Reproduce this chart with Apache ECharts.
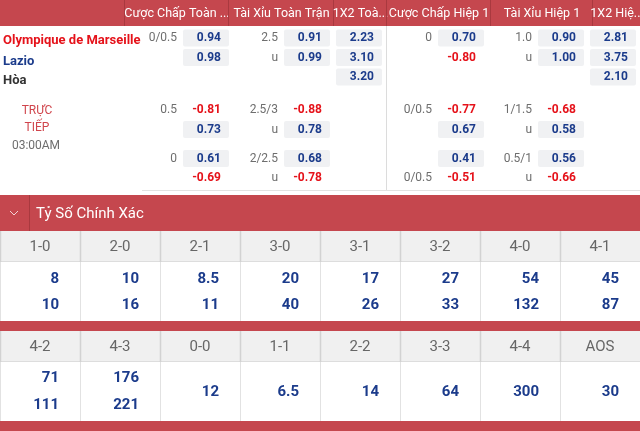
<!DOCTYPE html>
<html><head><meta charset="utf-8">
<script src="https://cdn.jsdelivr.net/npm/echarts@6/dist/echarts.min.js"></script>
<style>html,body{margin:0;padding:0;background:#fff}#c{width:640px;height:431px}</style>
</head><body><div id="c"></div>
<script>
// ================= DATA =================
const headerLabels = ["Cược Chấp Toàn ...", "Tài Xỉu Toàn Trận", "1X2 Toà...", "Cược Chấp Hiệp 1", "Tài Xỉu Hiệp 1", "1X2 Hiệ..."];
const teams = ["Olympique de Marseille", "Lazio", "Hòa"];
const liveLabel = ["TRỰC", "TIẾP"];
const kickoff = "03:00AM";
// row slots: main(3 rows), live block 1 (2 rows), live block 2 (2 rows)
const ftHdpLine  = ["0/0.5", "", "", "0.5", "", "0", ""];
const ftHdpOdds  = [0.94, 0.98, null, -0.81, 0.73, 0.61, -0.69];
const ftOuLine   = ["2.5", "u", "", "2.5/3", "u", "2/2.5", "u"];
const ftOuOdds   = [0.91, 0.99, null, -0.88, 0.78, 0.68, -0.78];
const ft1x2      = [2.23, 3.10, 3.20, null, null, null, null];
const h1HdpLine  = ["0", "", "", "0/0.5", "", "", "0/0.5"];
const h1HdpOdds  = [0.70, -0.80, null, -0.77, 0.67, 0.41, -0.51];
const h1OuLine   = ["1.0", "u", "", "1/1.5", "u", "0.5/1", "u"];
const h1OuOdds   = [0.90, 1.00, null, -0.68, 0.58, 0.56, -0.66];
const h1x2       = [2.81, 3.75, 2.10, null, null, null, null];

const sectionTitle = "Tỷ Số Chính Xác";
const scoreLabels1 = ["1-0", "2-0", "2-1", "3-0", "3-1", "3-2", "4-0", "4-1"];
const scoreTop1    = [8, 10, 8.5, 20, 17, 27, 54, 45];
const scoreBottom1 = [10, 16, 11, 40, 26, 33, 132, 87];
const scoreLabels2 = ["4-2", "4-3", "0-0", "1-1", "2-2", "3-3", "4-4", "AOS"];
const scoreTop2    = [71, 176, 12, 6.5, 14, 64, 300, 30];
const scoreBottom2 = [111, 221, null, null, null, null, null, null];

// ================= LAYOUT / STYLE =================
const FONT = 'Roboto, "Noto Sans", sans-serif';
const RED_BG = '#c5474e', RED_DARK = '#a9393f';
const BLUE = '#1b3b8b', RED_TXT = '#e5121a', GREY_TXT = '#6e6e6e';
const HEAD_H = 26;
const headerEdges = [124, 228, 333, 386, 490, 592, 640];
const boxRight = [229, 330, 382, 484, 584, 636];
const BOX_W = 46, BOX_H = 17;
const rowY = [38, 57.5, 77, 110, 129.5, 158.5, 178];
const teamY = [41, 62, 81];
const teamColor = ['#e5121a', BLUE, '#333333'];
const BODY_BOTTOM = 190;
const SECTION = {top: 195, bottom: 231};
const tableGeom = [
  {headTop: 231, headBot: 262, bodyBot: 321, vals: [279, 305], single: 292},
  {headTop: 331, headBot: 362, bodyBot: 421, vals: [378, 405], single: 392}
];
const redBars = [[195, 231], [321, 331], [421, 431]];

// ================= BUILD =================
const oddsMarkets = [
  {lines: ftHdpLine, odds: ftHdpOdds},
  {lines: ftOuLine, odds: ftOuOdds},
  {lines: null, odds: ft1x2},
  {lines: h1HdpLine, odds: h1HdpOdds},
  {lines: h1OuLine, odds: h1OuOdds},
  {lines: null, odds: h1x2}
];
const oddsCells = [];
oddsMarkets.forEach((mk, m) => mk.odds.forEach((v, r) => {
  const line = mk.lines ? mk.lines[r] : '';
  if (v != null || line) oddsCells.push({m, r, v, line});
}));

const scoreTables = [
  {labels: scoreLabels1, top: scoreTop1, bottom: scoreBottom1},
  {labels: scoreLabels2, top: scoreTop2, bottom: scoreBottom2}
];
const scoreCells = [];
scoreTables.forEach((t, ti) => t.labels.forEach((l, i) => scoreCells.push({ti, i})));

function txt(text, x, y, align, font, fill, extra) {
  return Object.assign({type: 'text', style: {text, x, y, align, textAlign: align, verticalAlign: 'middle', textVerticalAlign: 'middle', font, fill}}, extra || {});
}

function renderOdds(params, api) {
  const c = oddsCells[params.dataIndex];
  const p = api.coord([boxRight[c.m], rowY[c.r]]);
  const xr = p[0], yc = p[1];
  const ch = [];
  if (c.v != null) {
    const pos = c.v > 0;
    if (pos) ch.push({type: 'rect', shape: {x: xr - BOX_W, y: yc - BOX_H / 2, width: BOX_W, height: BOX_H, r: 2}, style: {fill: '#f0f1f3'}});
    ch.push(txt(c.v.toFixed(2), xr - 8, yc, 'right', 'bold 12px ' + FONT, pos ? BLUE : RED_TXT));
  }
  if (c.line) ch.push(txt(c.line, xr - BOX_W - 6, yc, 'right', '12px ' + FONT, GREY_TXT));
  return {type: 'group', children: ch};
}

function renderHeader(params, api) {
  const i = params.dataIndex;
  const l = api.coord([headerEdges[i], 0]);
  const r = api.coord([headerEdges[i + 1], HEAD_H]);
  const ch = [];
  ch.push({type: 'line', shape: {x1: l[0] + 0.5, y1: l[1], x2: l[0] + 0.5, y2: r[1]}, style: {stroke: RED_DARK, lineWidth: 1}});
  ch.push(txt(headerLabels[i], (l[0] + r[0]) / 2 + 1, (l[1] + r[1]) / 2 + 1, 'center', '12.5px ' + FONT, '#ffffff'));
  return {type: 'group', children: ch};
}

function renderScore(params, api) {
  const c = scoreCells[params.dataIndex];
  const t = scoreTables[c.ti], g = tableGeom[c.ti];
  const bw = api.size([1, 0])[0];
  const cx = api.coord([c.i, 0])[0];
  const left = Math.round(cx - bw / 2) + 0.5, right = cx + bw / 2;
  const yHT = api.coord([c.i, g.headTop])[1];
  const yHB = api.coord([c.i, g.headBot])[1];
  const yBB = api.coord([c.i, g.bodyBot])[1];
  const ch = [];
  ch.push({type: 'rect', shape: {x: left - 0.5, y: yHT, width: bw + 1, height: yHB - yHT}, style: {fill: '#f0f0f0'}});
  ch.push({type: 'line', shape: {x1: left - 1, y1: yHB - 0.5, x2: right + 1, y2: yHB - 0.5}, style: {stroke: '#dddddd', lineWidth: 1}});
  ch.push({type: 'line', shape: {x1: left, y1: yHT, x2: left, y2: yHB}, style: {stroke: '#d2d2d2', lineWidth: 1.5}});
  ch.push({type: 'line', shape: {x1: left, y1: yHB, x2: left, y2: yBB}, style: {stroke: '#e2e2e2', lineWidth: 1}});
  ch.push(txt(t.labels[c.i], cx, (yHT + yHB) / 2 + 1, 'center', '15px ' + FONT, '#666666'));
  const vf = 'bold 15px ' + FONT;
  const xr = right - 21;
  if (t.bottom[c.i] != null) {
    ch.push(txt(String(t.top[c.i]), xr, api.coord([c.i, g.vals[0]])[1], 'right', vf, BLUE));
    ch.push(txt(String(t.bottom[c.i]), xr, api.coord([c.i, g.vals[1]])[1], 'right', vf, BLUE));
  } else {
    ch.push(txt(String(t.top[c.i]), xr, api.coord([c.i, g.single])[1], 'right', vf, BLUE));
  }
  return {type: 'group', children: ch};
}

function renderDecor(params, api) {
  const ch = [];
  // top header bar
  const a = api.coord([0, 0]), b = api.coord([640, HEAD_H]);
  ch.push({type: 'rect', shape: {x: a[0], y: a[1], width: b[0] - a[0], height: b[1] - a[1]}, style: {fill: RED_BG}});
  // body separators
  const s1 = api.coord([386, HEAD_H]), s2 = api.coord([386, BODY_BOTTOM]);
  ch.push({type: 'line', shape: {x1: s1[0] + 0.5, y1: s1[1], x2: s2[0] + 0.5, y2: s2[1]}, style: {stroke: '#dcdcdc', lineWidth: 1}});
  const h1 = api.coord([142, BODY_BOTTOM]), h2 = api.coord([640, BODY_BOTTOM]);
  ch.push({type: 'line', shape: {x1: h1[0], y1: h1[1] + 0.5, x2: h2[0], y2: h2[1] + 0.5}, style: {stroke: '#e2e2e2', lineWidth: 1}});
  // red bars
  redBars.forEach(rb => {
    const p = api.coord([0, rb[0]]), q = api.coord([640, rb[1]]);
    ch.push({type: 'rect', shape: {x: p[0], y: p[1], width: q[0] - p[0], height: q[1] - p[1]}, style: {fill: RED_BG}});
  });
  // section header detail
  const sp = api.coord([29, SECTION.top]), sq = api.coord([29, SECTION.bottom]);
  ch.push({type: 'line', shape: {x1: sp[0] + 0.5, y1: sp[1], x2: sq[0] + 0.5, y2: sq[1]}, style: {stroke: RED_DARK, lineWidth: 1}});
  const cm = api.coord([14, (SECTION.top + SECTION.bottom) / 2]);
  ch.push({type: 'polyline', shape: {points: [[cm[0] - 4, cm[1] - 2], [cm[0], cm[1] + 2], [cm[0] + 4, cm[1] - 2]]}, style: {stroke: '#f3d3d5', lineWidth: 1, fill: null}});
  const st = api.coord([36, (SECTION.top + SECTION.bottom) / 2]);
  ch.push(txt(sectionTitle, st[0], st[1] + 1, 'left', '15px ' + FONT, '#ffffff'));
  // teams
  teams.forEach((tm, i) => {
    const p = api.coord([3, teamY[i]]);
    ch.push(txt(tm, p[0], p[1], 'left', 'bold 13px ' + FONT, teamColor[i], {}));
  });
  // live label
  const lc = api.coord([37, 111]);
  ch.push(txt(liveLabel[0], lc[0], lc[1], 'center', '12px ' + FONT, '#d0454c'));
  const lc2 = api.coord([37, 128]);
  ch.push(txt(liveLabel[1], lc2[0], lc2[1], 'center', '12px ' + FONT, '#d0454c'));
  const kc = api.coord([36, 146]);
  ch.push(txt(kickoff, kc[0], kc[1], 'center', '12px ' + FONT, GREY_TXT));
  return {type: 'group', children: ch};
}

const chart = echarts.init(document.getElementById('c'), null, {renderer: 'canvas'});
chart.setOption({
  animation: false,
  backgroundColor: '#ffffff',
  grid: [
    {left: 0, right: 0, top: 0, bottom: 0},
    {left: -3, right: -9, top: 0, bottom: 0}
  ],
  xAxis: [
    {type: 'value', min: 0, max: 640, show: false, gridIndex: 0},
    {type: 'category', data: scoreLabels1, show: false, gridIndex: 1, boundaryGap: true}
  ],
  yAxis: [
    {type: 'value', min: 0, max: 431, inverse: true, show: false, gridIndex: 0},
    {type: 'value', min: 0, max: 431, inverse: true, show: false, gridIndex: 1}
  ],
  series: [
    {type: 'custom', xAxisIndex: 0, yAxisIndex: 0, data: [[0, 0]], renderItem: renderDecor, silent: true, clip: false, z: 1},
    {type: 'custom', xAxisIndex: 0, yAxisIndex: 0, data: headerLabels.map((l, i) => [headerEdges[i], 0]), renderItem: renderHeader, silent: true, clip: false, z: 2},
    {type: 'custom', xAxisIndex: 0, yAxisIndex: 0, data: oddsCells.map(c => [boxRight[c.m], rowY[c.r]]), renderItem: renderOdds, silent: true, clip: false, z: 3},
    {type: 'custom', xAxisIndex: 1, yAxisIndex: 1, data: scoreCells.map(c => [c.i, tableGeom[c.ti].headTop]), renderItem: renderScore, silent: true, clip: false, z: 3}
  ]
});
</script>
</body></html>
